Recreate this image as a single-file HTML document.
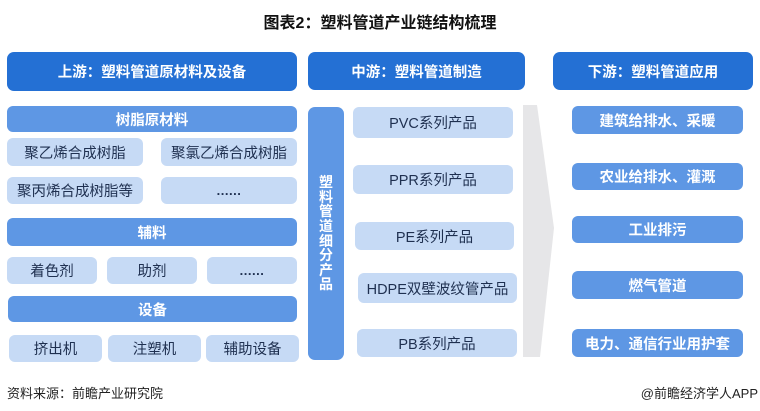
<!DOCTYPE html>
<html><head><meta charset="utf-8"><style>
*{margin:0;padding:0;box-sizing:border-box}
body{width:760px;height:411px;background:#fff;position:relative;overflow:hidden;font-family:"Liberation Sans","Noto Sans CJK SC",sans-serif}
.b{position:absolute;display:flex;align-items:center;justify-content:center;border-radius:6px;font-size:14.5px;white-space:nowrap}
.h{background:#2470d4;color:#fff;font-weight:bold;border-radius:7px}
.m{background:#5e97e4;color:#fff;font-weight:bold}
.l{background:#c6daf5;color:#1f3050}
.d{font-weight:bold;font-size:13px;letter-spacing:0.5px}
.t{position:absolute;white-space:nowrap}
</style></head><body>
<div class="t" style="left:0;width:760px;top:9px;text-align:center;font-size:16px;font-weight:bold;color:#111">图表2：塑料管道产业链结构梳理</div>

<div class="b h" style="left:7px;top:52px;width:290px;height:39px">上游：塑料管道原材料及设备</div>
<div class="b h" style="left:308px;top:52px;width:217px;height:38px">中游：塑料管道制造</div>
<div class="b h" style="left:553px;top:52px;width:200px;height:38px">下游：塑料管道应用</div>

<div class="b m" style="left:7px;top:106px;width:290px;height:26px">树脂原材料</div>
<div class="b l" style="left:7px;top:138px;width:136px;height:28px">聚乙烯合成树脂</div>
<div class="b l" style="left:161px;top:138px;width:136px;height:28px">聚氯乙烯合成树脂</div>
<div class="b l" style="left:7px;top:177px;width:136px;height:27px">聚丙烯合成树脂等</div>
<div class="b l d" style="left:161px;top:177px;width:136px;height:27px">......</div>

<div class="b m" style="left:7px;top:218px;width:290px;height:28px">辅料</div>
<div class="b l" style="left:7px;top:257px;width:90px;height:27px">着色剂</div>
<div class="b l" style="left:107px;top:257px;width:90px;height:27px">助剂</div>
<div class="b l d" style="left:207px;top:257px;width:90px;height:27px">......</div>

<div class="b m" style="left:8px;top:296px;width:289px;height:26px">设备</div>
<div class="b l" style="left:9px;top:335px;width:93px;height:27px">挤出机</div>
<div class="b l" style="left:108px;top:335px;width:93px;height:27px">注塑机</div>
<div class="b l" style="left:206px;top:335px;width:93px;height:27px">辅助设备</div>

<div class="b m" style="left:308px;top:107px;width:36px;height:253px;border-radius:7px;flex-direction:column;font-size:14px;line-height:14.6px;text-align:center">塑<br>料<br>管<br>道<br>细<br>分<br>产<br>品</div>

<div class="b l" style="left:353px;top:107px;width:160px;height:31px">PVC系列产品</div>
<div class="b l" style="left:353px;top:165px;width:160px;height:29px">PPR系列产品</div>
<div class="b l" style="left:355px;top:222px;width:159px;height:28px">PE系列产品</div>
<div class="b l" style="left:358px;top:273px;width:159px;height:30px">HDPE双壁波纹管产品</div>
<div class="b l" style="left:357px;top:329px;width:160px;height:28px">PB系列产品</div>

<svg style="position:absolute;left:0;top:0" width="760" height="411"><polygon points="523,105 537,105 554,228 540,357 523,357" fill="#e6e6e8"/></svg>

<div class="b m" style="left:572px;top:106px;width:171px;height:28px">建筑给排水、采暖</div>
<div class="b m" style="left:572px;top:163px;width:171px;height:27px">农业给排水、灌溉</div>
<div class="b m" style="left:572px;top:216px;width:171px;height:27px">工业排污</div>
<div class="b m" style="left:572px;top:271px;width:171px;height:28px">燃气管道</div>
<div class="b m" style="left:572px;top:329px;width:171px;height:28px">电力、通信行业用护套</div>

<div class="t" style="left:7px;top:383px;font-size:13px;color:#222">资料来源：前瞻产业研究院</div>
<div class="t" style="right:2px;top:383px;font-size:13px;color:#222">@前瞻经济学人APP</div>
</body></html>
